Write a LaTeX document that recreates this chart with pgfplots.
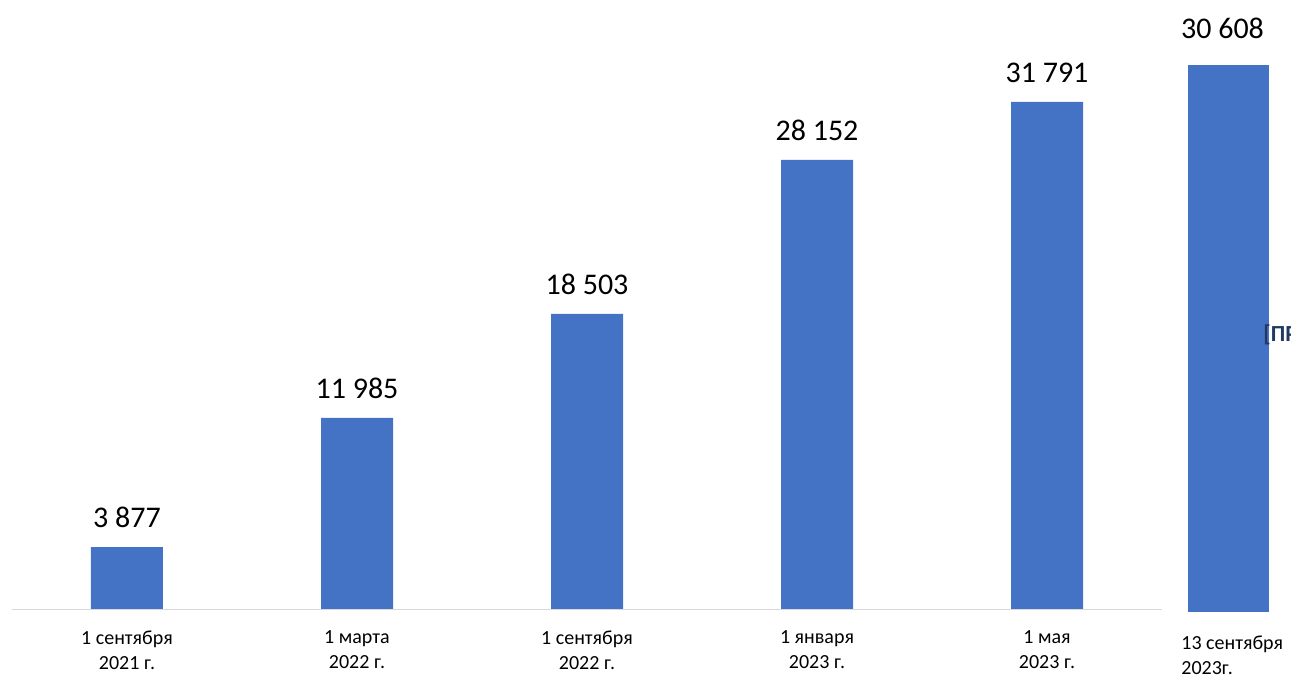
\documentclass[border=0pt]{standalone}
\usepackage{pgfplots}
\pgfplotsset{compat=1.18}
\usepackage{fontspec}
\setmainfont{Carlito}
\definecolor{barblue}{HTML}{4472C4}
\definecolor{darkblue}{HTML}{203864}

\begin{document}
\begin{tikzpicture}
\useasboundingbox (0,0) rectangle (645.5pt,337.5pt);
\begin{axis}[
    at={(6pt,33pt)}, anchor=south west,
    scale only axis,
    width=575pt, height=304.5pt,
    xmin=-0.5, xmax=4.5, ymin=0, ymax=38182,
    ybar, bar width=36pt,
    axis x line*=bottom, axis y line=none,
    x axis line style={draw=black!15, -},
    xtick=data,
    xticklabels={{1 сентября\\2021 г.},{1 марта\\2022 г.},{1 сентября\\2022 г.},{1 января\\2023 г.},{1 мая\\2023 г.}},
    tick style={draw=none},
    xticklabel style={align=center, inner sep=0pt, yshift=-6.5pt, font=\fontsize{10}{12.5}\selectfont},
    nodes near coords={\pgfmathprintnumber[fixed, precision=0, 1000 sep={\ }, assume math mode=true]{\pgfplotspointmeta}},
    every node near coord/.append style={font=\fontsize{15}{18}\selectfont, inner sep=0pt, yshift=9.5pt, text=black},
    clip=false,
]
\addplot[fill=barblue, draw=none] coordinates {
    (0,3877)
    (1,11985)
    (2,18503)
    (3,28152)
    (4,31791)
};
\end{axis}
% last bar is drawn on its own scale, as in the original
\begin{axis}[
    at={(594pt,31.5pt)}, anchor=south west,
    scale only axis,
    width=40.5pt, height=273.5pt,
    xmin=-0.5, xmax=0.5, ymin=0, ymax=30608,
    ybar, bar width=40.5pt,
    axis x line*=bottom, axis y line=none,
    x axis line style={draw=none},
    xtick={0},
    xticklabels={{13 сентября\\2023г.}},
    tick style={draw=none},
    xticklabel style={anchor=north west, align=left, inner sep=0pt, xshift=-23.75pt, yshift=-7.5pt, font=\fontsize{10}{12.5}\selectfont},
    nodes near coords={\pgfmathprintnumber[fixed, precision=0, 1000 sep={\ }, assume math mode=true]{\pgfplotspointmeta}},
    every node near coord/.append style={font=\fontsize{15}{18}\selectfont, inner sep=0pt, yshift=13pt, xshift=-3pt, text=black},
    clip=false,
]
\addplot[fill=barblue, draw=none] coordinates {(0,30608)};
\node[anchor=west, inner sep=0pt, text=darkblue, font=\fontsize{11.5}{14}\selectfont\bfseries] at (axis cs:0.426,15500) {[ПРОЦЕНТ]};
\end{axis}
\end{tikzpicture}
\end{document}
